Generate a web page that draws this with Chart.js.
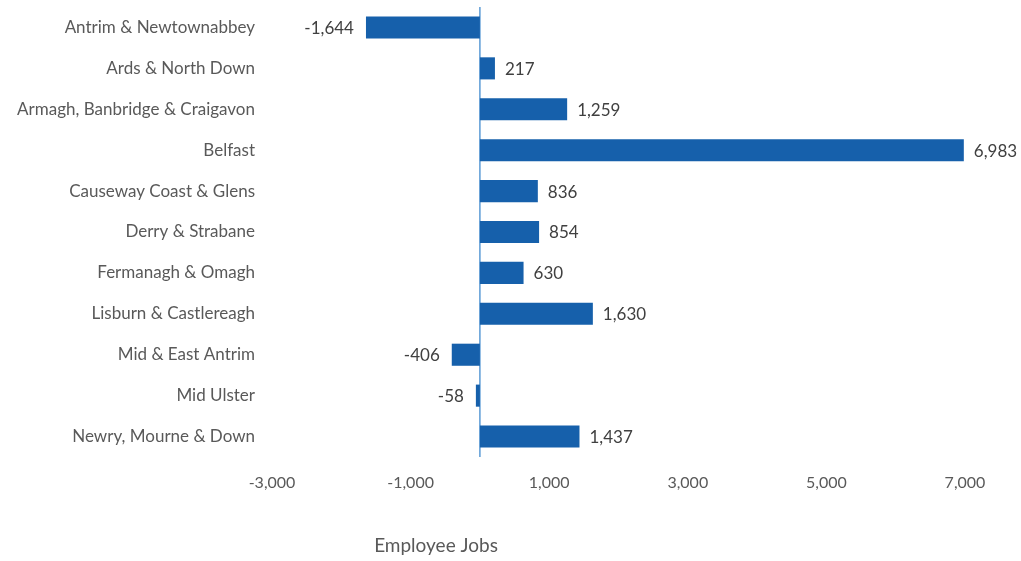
<!DOCTYPE html>
<html>
<head>
<meta charset="utf-8">
<script src="https://cdn.jsdelivr.net/npm/chart.js@4"></script>
<style>
  html, body { margin: 0; padding: 0; background: #fff; }
  #wrap { width: 1021px; height: 561px; position: relative; }
</style>
</head>
<body>
<div id="wrap"><canvas id="myChart"></canvas></div>
<script>
const councils = [
  'Antrim & Newtownabbey',
  'Ards & North Down',
  'Armagh, Banbridge & Craigavon',
  'Belfast',
  'Causeway Coast & Glens',
  'Derry & Strabane',
  'Fermanagh & Omagh',
  'Lisburn & Castlereagh',
  'Mid & East Antrim',
  'Mid Ulster',
  'Newry, Mourne & Down'
]
const jobChange = [-1644, 217, 1259, 6983, 836, 854, 630, 1630, -406, -58, 1437]
const xTicks = [-3000, -1000, 1000, 3000, 5000, 7000]
const axisTitle = 'Employee Jobs'

const FONT = 'Lato, "Open Sans", sans-serif'
const fmt = v => v.toLocaleString('en-US')

// zero line + value labels + axis title
const extras = {
    id: 'extras',
    beforeDatasetsDraw(chart) {
        const ctx = chart.ctx
        const x = chart.scales.x.getPixelForValue(0)
        ctx.save()
        ctx.strokeStyle = '#5B9BD5'
        ctx.lineWidth = 1.5
        ctx.beginPath()
        ctx.moveTo(x, chart.chartArea.top)
        ctx.lineTo(x, chart.chartArea.bottom)
        ctx.stroke()
        ctx.restore()
    },
    afterDatasetsDraw(chart) {
        const ctx = chart.ctx
        const meta = chart.getDatasetMeta(0)
        ctx.save()
        ctx.font = '17px ' + FONT
        ctx.fillStyle = '#404040'
        ctx.textBaseline = 'middle'
        meta.data.forEach((bar, i) => {
            const v = jobChange[i]
            if (v >= 0) {
                ctx.textAlign = 'left'
                ctx.fillText(fmt(v), bar.x + 10, bar.y + 1)
            } else {
                ctx.textAlign = 'right'
                ctx.fillText(fmt(v), bar.x - 12, bar.y + 1)
            }
        })
        ctx.font = '19px ' + FONT
        ctx.fillStyle = '#595959'
        ctx.textAlign = 'center'
        ctx.fillText(axisTitle, chart.chartArea.left + 164, 546)
        ctx.restore()
    }
}

const el = document.getElementById('myChart')
const myChart = new Chart(el, {
    type: 'bar',
    data: {
        labels: councils,
        datasets: [{
            data: jobChange,
            backgroundColor: '#1660AB',
            borderWidth: 0,
            categoryPercentage: 1,
            barPercentage: 0.54
        }]
    },
    options: {
        indexAxis: 'y',
        responsive: true,
        maintainAspectRatio: false,
        animation: false,
        layout: { padding: { top: 7, right: 56, left: 0, bottom: 0 } },
        plugins: {
            legend: { display: false },
            tooltip: { enabled: false }
        },
        scales: {
            x: {
                min: -3000,
                max: 7000,
                grid: { display: false, drawTicks: false },
                border: { display: false },
                afterBuildTicks: scale => {
                    scale.ticks = xTicks.map(v => ({ value: v }))
                },
                afterFit: scale => { scale.height = 104 },
                ticks: {
                    padding: 16,
                    maxRotation: 0,
                    color: '#595959',
                    font: { family: FONT, size: 16 },
                    callback: v => fmt(v)
                }
            },
            y: {
                grid: { display: false, drawTicks: false },
                border: { display: false },
                afterFit: scale => {
                    scale.width = 272
                    scale.paddingTop = 0
                    scale.paddingBottom = 0
                },
                ticks: {
                    padding: 17,
                    color: '#595959',
                    font: { family: FONT, size: 17 }
                }
            }
        }
    },
    plugins: [extras]
})
</script>
</body>
</html>
